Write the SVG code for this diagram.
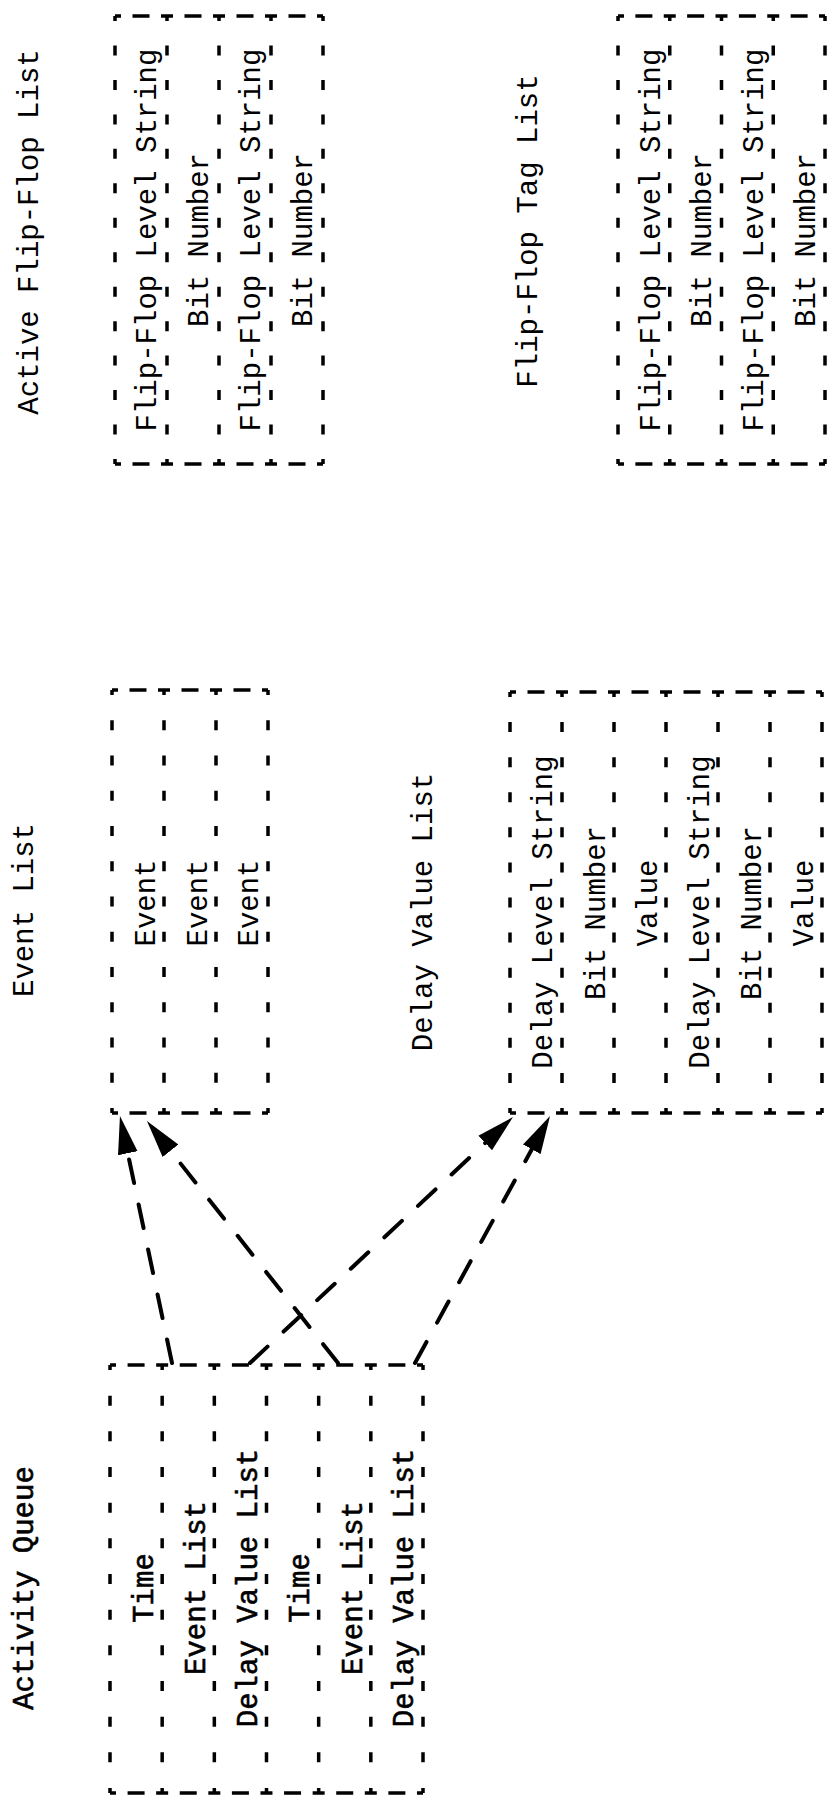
<svg xmlns="http://www.w3.org/2000/svg" width="827" height="1798" viewBox="0 0 827 1798">
<defs>
<style>
.e{stroke:#000;stroke-width:3.5;fill:none}
.hA{stroke-dasharray:12 11.5 17 11.5;stroke-dashoffset:6}
.hT{stroke-dasharray:12 11.375 17 11.375;stroke-dashoffset:6}
.hQ{stroke-dasharray:12 11.58 17 11.58;stroke-dashoffset:6}
.vA{stroke-dasharray:10 24.46;stroke-dashoffset:5}
.vE{stroke-dasharray:10 25.25;stroke-dashoffset:5}
.vD{stroke-dasharray:10 25.08;stroke-dashoffset:5}
.vQ{stroke-dasharray:10 25.67;stroke-dashoffset:5}
.t{font-family:"Liberation Mono","DejaVu Sans Mono",monospace;font-size:29px;fill:#000;text-anchor:middle}
.b{stroke:#000;stroke-width:0.6}
.c{stroke:#000;stroke-width:4;fill:none;stroke-dasharray:24 22;stroke-linecap:round}
</style>
<marker id="ah" markerUnits="userSpaceOnUse" viewBox="0 -11 40 22" refX="0" refY="0" markerWidth="40" markerHeight="22" orient="auto"><path d="M0,-10 L38,0 L0,10 Z" fill="#000"/></marker>
</defs>
<rect width="827" height="1798" fill="#fff"/>

<g id="active-flip-flop-list">
<text class="t" transform="translate(38,232) rotate(-90)">Active Flip-Flop List</text>
<line class="e hA" x1="115" y1="16" x2="323" y2="16"/>
<line class="e hA" x1="115" y1="464" x2="323" y2="464"/>
<line class="e vA" x1="115" y1="16" x2="115" y2="464"/>
<line class="e vA" x1="167" y1="16" x2="167" y2="464"/>
<line class="e vA" x1="219" y1="16" x2="219" y2="464"/>
<line class="e vA" x1="271" y1="16" x2="271" y2="464"/>
<line class="e vA" x1="323" y1="16" x2="323" y2="464"/>
<text class="t" transform="translate(156,240) rotate(-90)">Flip-Flop Level String</text>
<text class="t" transform="translate(208,240) rotate(-90)">Bit Number</text>
<text class="t" transform="translate(260,240) rotate(-90)">Flip-Flop Level String</text>
<text class="t" transform="translate(312,240) rotate(-90)">Bit Number</text>
</g>

<g id="flip-flop-tag-list">
<text class="t" transform="translate(537,231) rotate(-90)">Flip-Flop Tag List</text>
<line class="e hT" x1="618" y1="16" x2="825" y2="16"/>
<line class="e hT" x1="618" y1="464" x2="825" y2="464"/>
<line class="e vA" x1="618" y1="16" x2="618" y2="464"/>
<line class="e vA" x1="669.75" y1="16" x2="669.75" y2="464"/>
<line class="e vA" x1="721.5" y1="16" x2="721.5" y2="464"/>
<line class="e vA" x1="773.25" y1="16" x2="773.25" y2="464"/>
<line class="e vA" x1="825" y1="16" x2="825" y2="464"/>
<text class="t" transform="translate(660,240) rotate(-90)">Flip-Flop Level String</text>
<text class="t" transform="translate(711,240) rotate(-90)">Bit Number</text>
<text class="t" transform="translate(763,240) rotate(-90)">Flip-Flop Level String</text>
<text class="t" transform="translate(815,240) rotate(-90)">Bit Number</text>
</g>

<g id="event-list">
<text class="t" transform="translate(33,910) rotate(-90)">Event List</text>
<line class="e hA" x1="112" y1="690" x2="268" y2="690"/>
<line class="e hA" x1="112" y1="1113" x2="268" y2="1113"/>
<line class="e vE" x1="112" y1="690" x2="112" y2="1113"/>
<line class="e vE" x1="164" y1="690" x2="164" y2="1113"/>
<line class="e vE" x1="216" y1="690" x2="216" y2="1113"/>
<line class="e vE" x1="268" y1="690" x2="268" y2="1113"/>
<text class="t" transform="translate(155,903) rotate(-90)">Event</text>
<text class="t" transform="translate(207,903) rotate(-90)">Event</text>
<text class="t" transform="translate(258,903) rotate(-90)">Event</text>
</g>

<g id="delay-value-list">
<text class="t" transform="translate(432,912) rotate(-90)">Delay Value List</text>
<line class="e hA" x1="510" y1="692" x2="822" y2="692"/>
<line class="e hA" x1="510" y1="1113" x2="822" y2="1113"/>
<line class="e vD" x1="510" y1="692" x2="510" y2="1113"/>
<line class="e vD" x1="562" y1="692" x2="562" y2="1113"/>
<line class="e vD" x1="614" y1="692" x2="614" y2="1113"/>
<line class="e vD" x1="666" y1="692" x2="666" y2="1113"/>
<line class="e vD" x1="718" y1="692" x2="718" y2="1113"/>
<line class="e vD" x1="770" y1="692" x2="770" y2="1113"/>
<line class="e vD" x1="822" y1="692" x2="822" y2="1113"/>
<text class="t" transform="translate(552,912) rotate(-90)">Delay Level String</text>
<text class="t" transform="translate(605,913) rotate(-90)">Bit Number</text>
<text class="t" transform="translate(657,903) rotate(-90)">Value</text>
<text class="t" transform="translate(709,912) rotate(-90)">Delay Level String</text>
<text class="t" transform="translate(761,913) rotate(-90)">Bit Number</text>
<text class="t" transform="translate(813,903) rotate(-90)">Value</text>
</g>

<g id="activity-queue">
<text class="t b" transform="translate(33,1588) rotate(-90)">Activity Queue</text>
<line class="e hQ" x1="110" y1="1365" x2="423" y2="1365"/>
<line class="e hQ" x1="110" y1="1793" x2="423" y2="1793"/>
<line class="e vQ" x1="110" y1="1365" x2="110" y2="1793"/>
<line class="e vQ" x1="162.17" y1="1365" x2="162.17" y2="1793"/>
<line class="e vQ" x1="214.33" y1="1365" x2="214.33" y2="1793"/>
<line class="e vQ" x1="266.5" y1="1365" x2="266.5" y2="1793"/>
<line class="e vQ" x1="318.67" y1="1365" x2="318.67" y2="1793"/>
<line class="e vQ" x1="370.83" y1="1365" x2="370.83" y2="1793"/>
<line class="e vQ" x1="423" y1="1365" x2="423" y2="1793"/>
<text class="t b" transform="translate(153,1588) rotate(-90)">Time</text>
<text class="t b" transform="translate(205,1588) rotate(-90)">Event List</text>
<text class="t b" transform="translate(257,1588) rotate(-90)">Delay Value List</text>
<text class="t b" transform="translate(309,1588) rotate(-90)">Time</text>
<text class="t b" transform="translate(362,1588) rotate(-90)">Event List</text>
<text class="t b" transform="translate(413,1588) rotate(-90)">Delay Value List</text>
</g>

<g id="connectors">
<path class="c" d="M172,1363L127.8,1153.2" marker-end="url(#ah)"/>
<path class="c" d="M338,1363L170.5,1150.8" marker-end="url(#ah)"/>
<path class="c" d="M250,1363L485.2,1143" marker-end="url(#ah)"/>
<path class="c" d="M415,1363L531.8,1149.3" marker-end="url(#ah)"/>
</g>
</svg>
